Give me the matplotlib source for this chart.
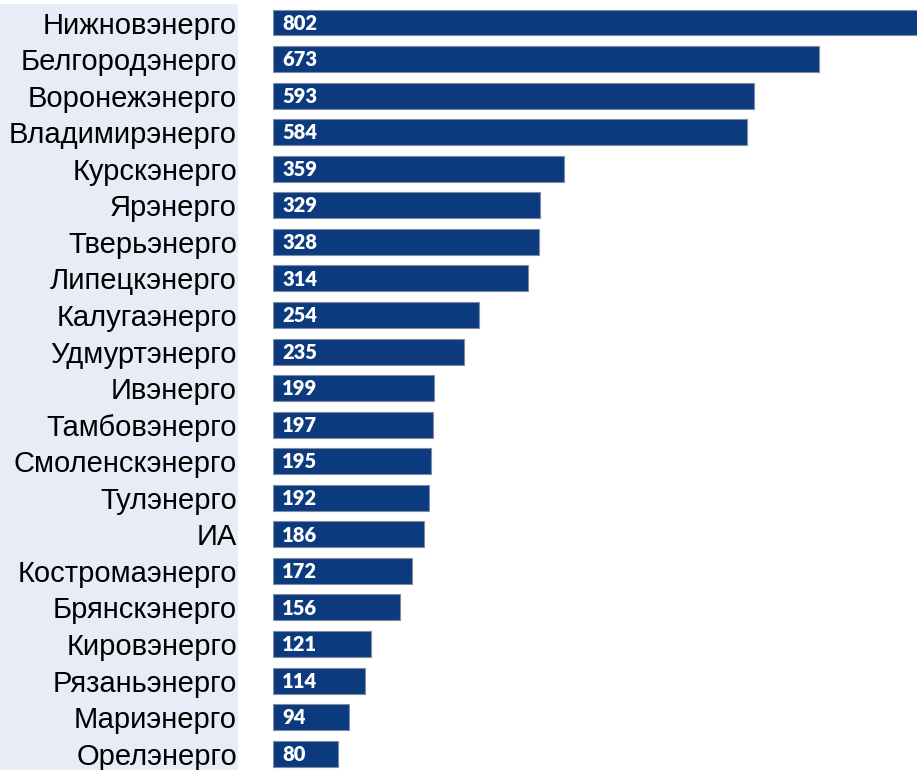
import matplotlib
matplotlib.use("Agg")
import matplotlib.pyplot as plt
from matplotlib.patches import Rectangle

categories = ["Нижновэнерго", "Белгородэнерго", "Воронежэнерго", "Владимирэнерго",
              "Курскэнерго", "Ярэнерго", "Тверьэнерго", "Липецкэнерго", "Калугаэнерго",
              "Удмуртэнерго", "Ивэнерго", "Тамбовэнерго", "Смоленскэнерго", "Тулэнерго",
              "ИА", "Костромаэнерго", "Брянскэнерго", "Кировэнерго", "Рязаньэнерго",
              "Мариэнерго", "Орелэнерго"]
values = [802, 673, 593, 584, 359, 329, 328, 314, 254, 235, 199, 197, 195, 192,
          186, 172, 156, 121, 114, 94, 80]

W, H = 917, 770
fig = plt.figure(figsize=(W / 100, H / 100), dpi=100)
fig.patch.set_facecolor("white")

# left label panel
fig.patches.append(Rectangle((0, 0), 238 / W, (H - 4) / H, transform=fig.transFigure,
                             facecolor="#E8ECF6", edgecolor="none", zorder=-5))

ax = fig.add_axes([273 / W, 0, 1 - 273 / W, 1])
ax.set_zorder(2)
ax.set_facecolor("none")
pos = list(range(len(categories)))
ax.barh(pos, values, height=0.71, color="#0B3A7E", edgecolor="#7F8CA3", linewidth=0.8)

ax.set_xlim(0, (W - 273) / 0.811)
top = -22.5 / 36.56
bot = (H - 22.5) / 36.56
ax.set_ylim(bot, top)

for i, v in zip(pos, values):
    ax.annotate(str(v), xy=(0, i), xytext=(6.5, -0.5), textcoords="offset points",
                ha="left", va="center", color="white", fontsize=14.5,
                fontweight="heavy", family="Lato")

ax.set_yticks(pos)
ax.set_yticklabels(categories, fontsize=21, family="Liberation Sans", color="black")
ax.tick_params(axis="y", length=0, pad=26)
ax.set_xticks([])
for s in ax.spines.values():
    s.set_visible(False)

fig.savefig("out.png", dpi=100)
